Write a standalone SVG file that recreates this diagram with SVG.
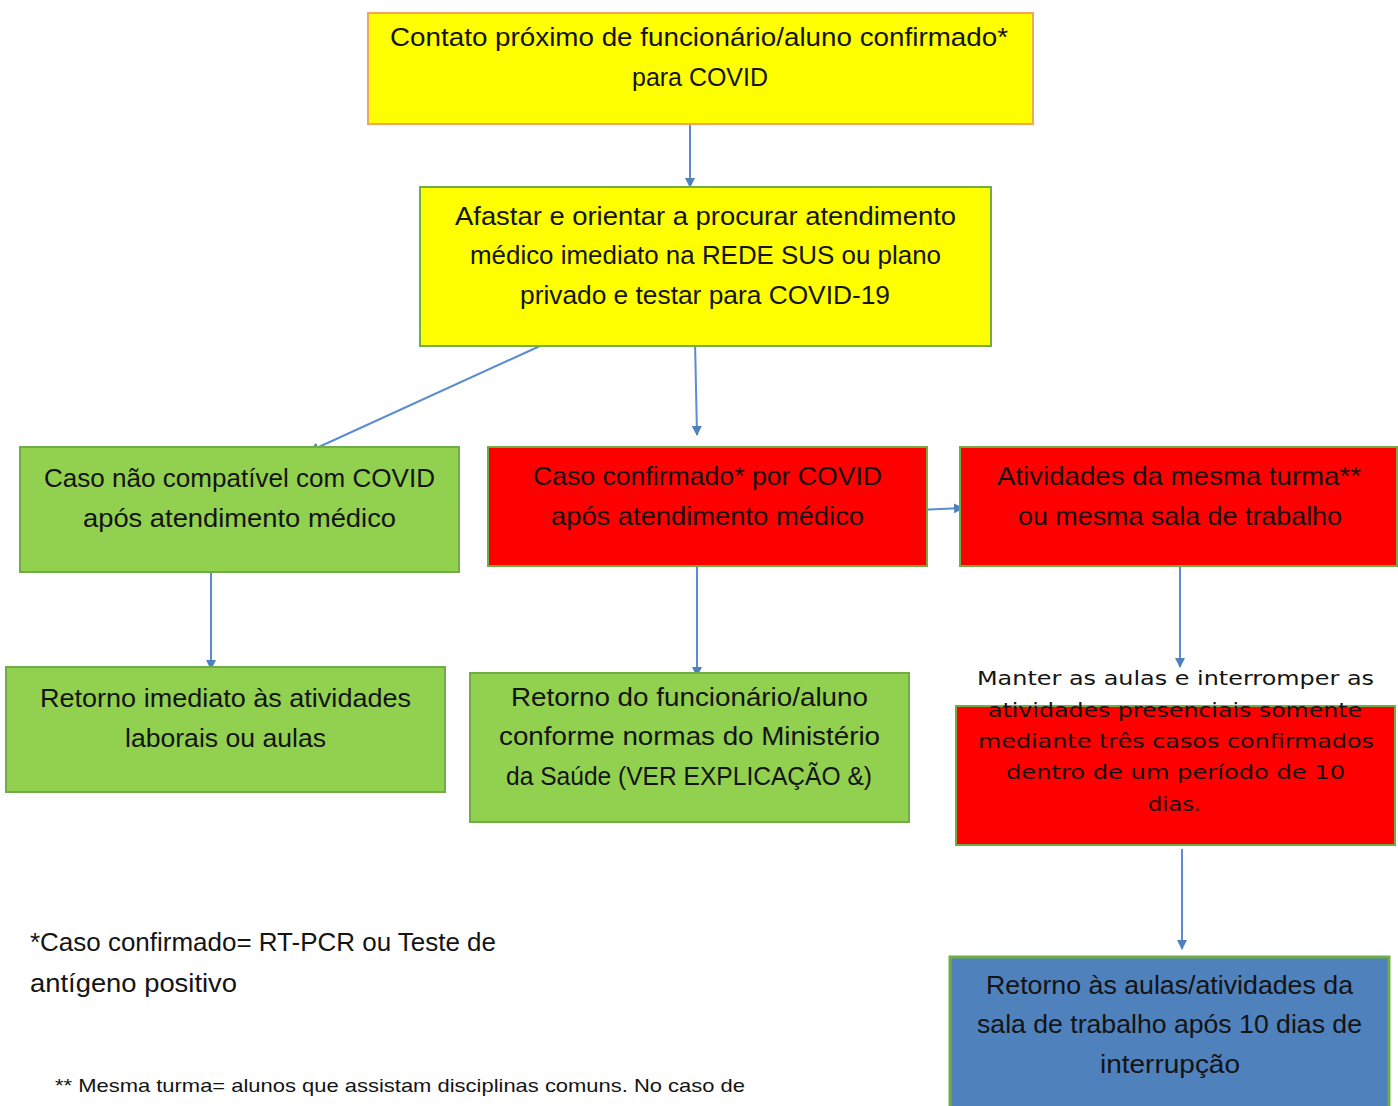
<svg xmlns="http://www.w3.org/2000/svg" width="1398" height="1106" viewBox="0 0 1398 1106">
<style>
.t{font-family:"Liberation Sans",Arial,sans-serif;font-size:25px;fill:#141414;}
.v{font-family:"DejaVu Sans",Verdana,sans-serif;font-size:19px;fill:#141414;}
.s{font-family:"Liberation Sans",Arial,sans-serif;font-size:19px;fill:#141414;}
.y{fill:#FFFF00;}
.g{fill:#92D050;stroke:#70AD47;stroke-width:2;}
.r{fill:#FF0000;stroke:#70AD47;stroke-width:2;}
.b{fill:#4F81BD;stroke:#70AD47;stroke-width:3;}
.c{stroke:#5B8BD0;stroke-width:2;fill:none;marker-end:url(#ah);}
</style>
<defs>
<marker id="ah" viewBox="0 0 10 10" refX="9" refY="5" markerWidth="5" markerHeight="5" orient="auto" markerUnits="strokeWidth">
<path d="M0,0 L10,5 L0,10 z" fill="#4F81BD"/>
</marker>
</defs>
<rect width="1398" height="1106" fill="#ffffff"/>
<g id="connectors">
<line class="c" x1="690" y1="124" x2="690" y2="187"/>
<line class="c" x1="540" y1="346" x2="310" y2="451"/>
<line class="c" x1="695" y1="340" x2="697" y2="435"/>
<line class="c" x1="918" y1="510" x2="963" y2="508"/>
<line class="c" x1="211" y1="570" x2="211" y2="669"/>
<line class="c" x1="697" y1="567" x2="697" y2="676"/>
<line class="c" x1="1180" y1="567" x2="1180" y2="667"/>
<line class="c" x1="1182" y1="849" x2="1182" y2="949"/>
</g>
<g id="n1">
<rect class="y" x="368" y="13" width="665" height="111" stroke="#F4A460" stroke-width="2"/>
<text class="t" x="390" y="46" textLength="618" lengthAdjust="spacingAndGlyphs">Contato próximo de funcionário/aluno confirmado*</text>
<text class="t" x="632" y="86" textLength="136" lengthAdjust="spacingAndGlyphs">para COVID</text>
</g>
<g id="n2">
<rect class="y" x="420" y="187" width="571" height="159" stroke="#70AD47" stroke-width="2"/>
<text class="t" x="455" y="225" textLength="501" lengthAdjust="spacingAndGlyphs">Afastar e orientar a procurar atendimento</text>
<text class="t" x="470" y="264" textLength="471" lengthAdjust="spacingAndGlyphs">médico imediato na REDE SUS ou plano</text>
<text class="t" x="520" y="304" textLength="370" lengthAdjust="spacingAndGlyphs">privado e testar para COVID-19</text>
</g>
<g id="n3">
<rect class="g" x="20" y="447" width="439" height="125"/>
<text class="t" x="44" y="487" textLength="391" lengthAdjust="spacingAndGlyphs">Caso não compatível com COVID</text>
<text class="t" x="83" y="527" textLength="313" lengthAdjust="spacingAndGlyphs">após atendimento médico</text>
</g>
<g id="n4">
<rect class="r" x="488" y="447" width="439" height="119"/>
<text class="t" x="533" y="485" textLength="349" lengthAdjust="spacingAndGlyphs">Caso confirmado* por COVID</text>
<text class="t" x="551" y="525" textLength="313" lengthAdjust="spacingAndGlyphs">após atendimento médico</text>
</g>
<g id="n5">
<rect class="r" x="960" y="447" width="437" height="119"/>
<text class="t" x="997" y="485" textLength="364" lengthAdjust="spacingAndGlyphs">Atividades da mesma turma**</text>
<text class="t" x="1018" y="525" textLength="324" lengthAdjust="spacingAndGlyphs">ou mesma sala de trabalho</text>
</g>
<g id="n6">
<rect class="g" x="6" y="667" width="439" height="125"/>
<text class="t" x="40" y="707" textLength="371" lengthAdjust="spacingAndGlyphs">Retorno imediato às atividades</text>
<text class="t" x="125" y="747" textLength="201" lengthAdjust="spacingAndGlyphs">laborais ou aulas</text>
</g>
<g id="n7">
<rect class="g" x="470" y="673" width="439" height="149"/>
<text class="t" x="511" y="706" textLength="357" lengthAdjust="spacingAndGlyphs">Retorno do funcionário/aluno</text>
<text class="t" x="499" y="745" textLength="381" lengthAdjust="spacingAndGlyphs">conforme normas do Ministério</text>
<text class="t" x="506" y="785" textLength="366" lengthAdjust="spacingAndGlyphs">da Saúde (VER EXPLICAÇÃO &amp;)</text>
</g>
<g id="n8">
<rect class="r" x="956" y="706" width="439" height="139"/>
<text class="v" x="977" y="685" textLength="397" lengthAdjust="spacingAndGlyphs">Manter as aulas e interromper as</text>
<text class="v" x="988" y="717" textLength="374" lengthAdjust="spacingAndGlyphs">atividades presenciais somente</text>
<text class="v" x="978" y="748" textLength="396" lengthAdjust="spacingAndGlyphs">mediante três casos confirmados</text>
<text class="v" x="1006" y="779" textLength="339" lengthAdjust="spacingAndGlyphs">dentro de um período de 10</text>
<text class="v" x="1148" y="811" textLength="53" lengthAdjust="spacingAndGlyphs">dias.</text>
</g>
<g id="n9">
<rect class="b" x="950" y="957" width="439" height="160"/>
<text class="t" x="986" y="994" textLength="367" lengthAdjust="spacingAndGlyphs">Retorno às aulas/atividades da</text>
<text class="t" x="977" y="1033" textLength="385" lengthAdjust="spacingAndGlyphs">sala de trabalho após 10 dias de</text>
<text class="t" x="1100" y="1073" textLength="140" lengthAdjust="spacingAndGlyphs">interrupção</text>
</g>
<g id="notes">
<text class="t" x="30" y="951" textLength="466" lengthAdjust="spacingAndGlyphs">*Caso confirmado= RT-PCR ou Teste de</text>
<text class="t" x="30" y="992" textLength="207" lengthAdjust="spacingAndGlyphs">antígeno positivo</text>
<text class="s" x="55" y="1092" textLength="690" lengthAdjust="spacingAndGlyphs">** Mesma turma= alunos que assistam disciplinas comuns. No caso de</text>
</g>
</svg>
